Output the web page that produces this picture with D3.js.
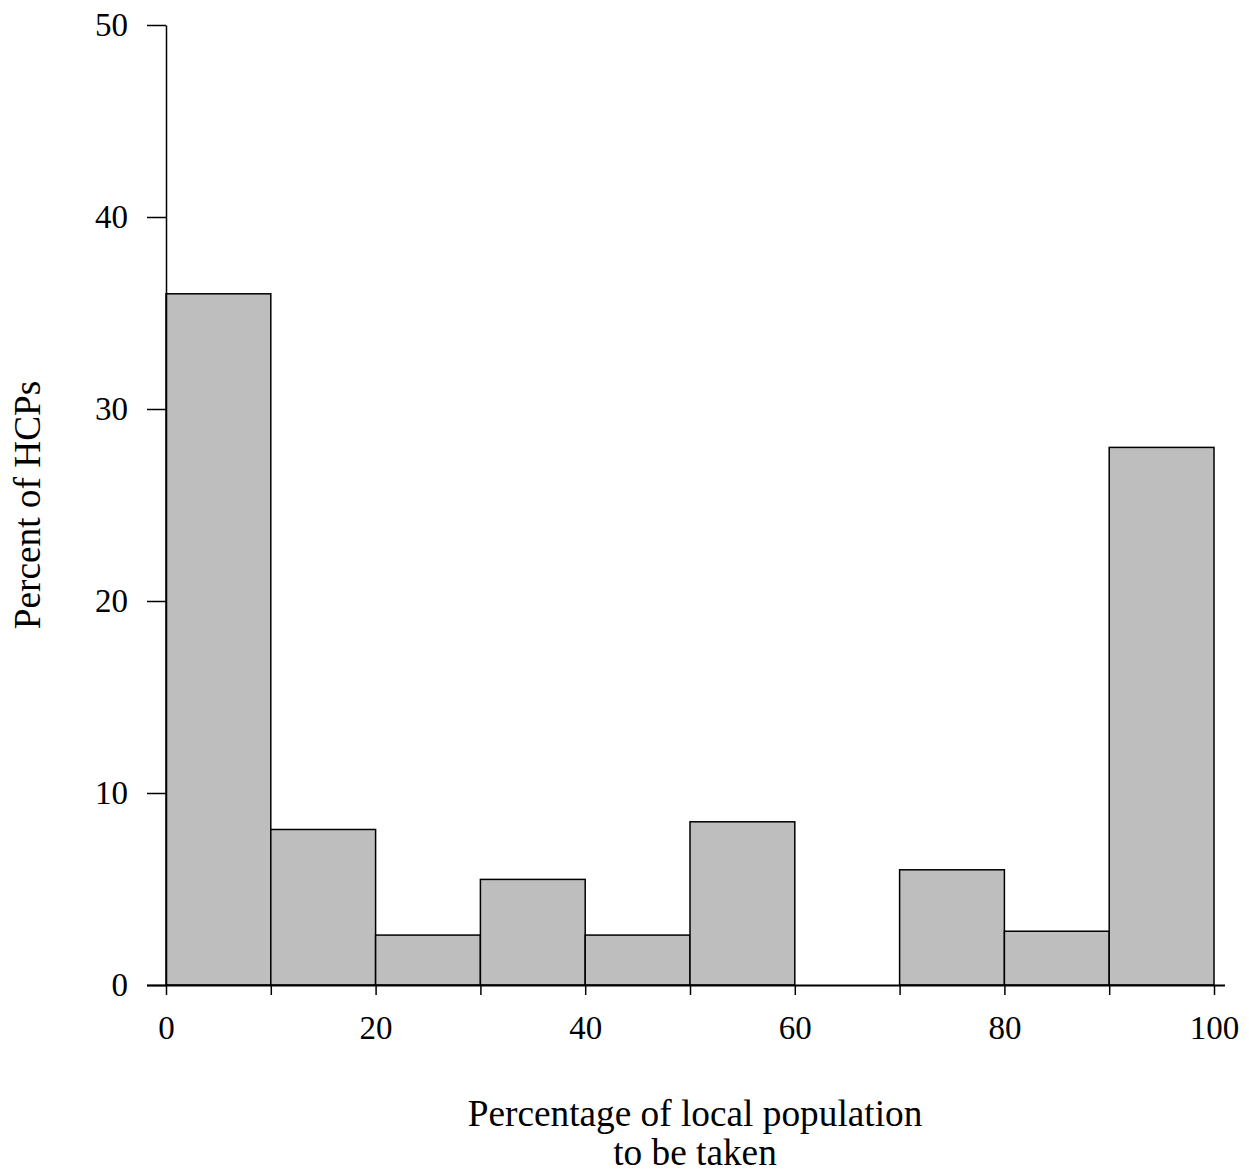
<!DOCTYPE html>
<html>
<head>
<meta charset="utf-8">
<script src="https://cdn.jsdelivr.net/npm/d3@7"></script>
<style>
  html, body { margin: 0; padding: 0; background: #fff; }
  svg { display: block; }
  svg text { font-family: "Liberation Serif", "Times New Roman", serif !important; fill: #000; }
</style>
</head>
<body>
<svg id="chart" width="1249" height="1175"></svg>
<script>
// Data
const binStarts = [0, 10, 20, 30, 40, 50, 60, 70, 80, 90];
const binWidth = 10;
const percents = [36, 8.1, 2.6, 5.5, 2.6, 8.5, 0, 6, 2.8, 28];
const xTickValues = [0, 10, 20, 30, 40, 50, 60, 70, 80, 90, 100];
const xTickLabels = ["0", "", "20", "", "40", "", "60", "", "80", "", "100"];
const yTickValues = [0, 10, 20, 30, 40, 50];
const xTitleLines = ["Percentage of local population", "to be taken"];
const yTitle = "Percent of HCPs";

(function () {
const svg = d3.select("#chart");
const mLeft = 166, mRight = 1214, mTop = 25, mBottom = 985;
const x = d3.scaleLinear().domain([0, 100]).range([mLeft, mRight]);
const y = d3.scaleLinear().domain([0, 50]).range([mBottom, mTop]);

const tickFont = 33;
const titleFont = 37.3;

// Bars
svg.append("g").selectAll("rect")
  .data(binStarts.map((s, i) => ({ s, v: percents[i] })))
  .join("rect")
  .attr("x", d => x(d.s))
  .attr("y", d => y(d.v))
  .attr("width", d => x(d.s + binWidth) - x(d.s))
  .attr("height", d => y(0) - y(d.v))
  .attr("fill", "#bebebe")
  .attr("stroke", "#000")
  .attr("stroke-width", 1.5);

// X axis
const xAxis = d3.axisBottom(x)
  .tickValues(xTickValues)
  .tickFormat((d, i) => xTickLabels[i])
  .tickSize(10)
  .tickSizeOuter(0)
  .tickPadding(21);
const gx = svg.append("g").attr("transform", `translate(0,${mBottom})`).call(xAxis);
gx.attr("font-family", null);
gx.select(".domain").attr("d", `M${mLeft - 19},0.5H${mRight + 11}`).attr("stroke-width", 2);
gx.selectAll(".tick line").attr("stroke-width", 1.5);
gx.selectAll(".tick text").style("font-size", tickFont + "px");

// Y axis
const yAxis = d3.axisLeft(y)
  .tickValues(yTickValues)
  .tickSize(19)
  .tickSizeOuter(0)
  .tickPadding(19);
const gy = svg.append("g").attr("transform", `translate(${mLeft},0)`).call(yAxis);
gy.attr("font-family", null);
gy.select(".domain").attr("stroke-width", 1.5);
gy.selectAll(".tick line").attr("stroke-width", 1.5);
gy.selectAll(".tick text").style("font-size", tickFont + "px");

// X title
const xTitleX = 695;
svg.append("text")
  .attr("x", xTitleX)
  .attr("y", 1126)
  .attr("text-anchor", "middle")
  .style("font-size", titleFont + "px")
  .selectAll("tspan")
  .data(xTitleLines)
  .join("tspan")
  .attr("x", xTitleX)
  .attr("dy", (d, i) => i === 0 ? 0 : 39)
  .text(d => d);

// Y title
svg.append("text")
  .attr("transform", `translate(40,${(mTop + mBottom) / 2}) rotate(-90)`)
  .attr("text-anchor", "middle")
  .style("font-size", titleFont + "px")
  .text(yTitle);
})();
</script>
</body>
</html>
